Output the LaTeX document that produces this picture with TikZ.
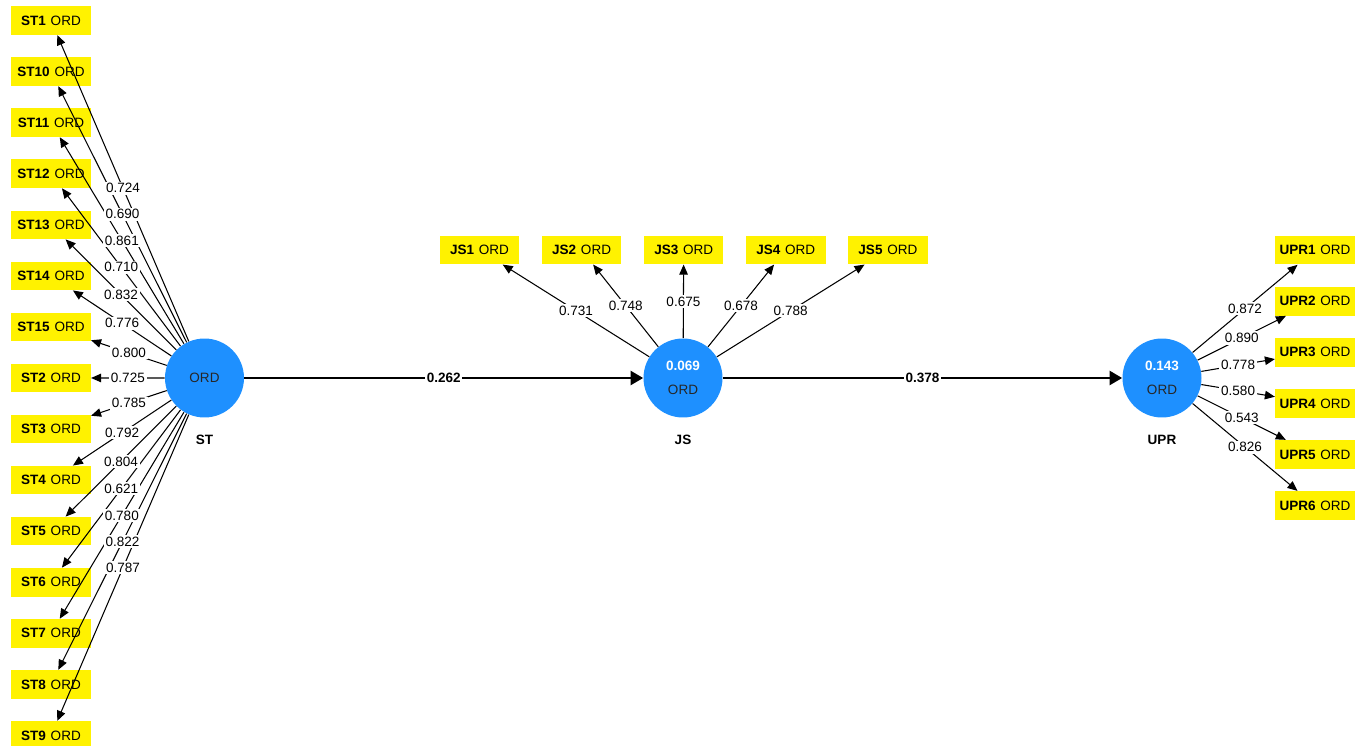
\documentclass[tikz,border=0pt]{standalone}
\usepackage{fontspec}
\setmainfont{Liberation Sans}
\usetikzlibrary{arrows.meta}
\definecolor{plsblue}{RGB}{30,144,255}

\begin{document}
\begin{tikzpicture}[x=0.02cm,y=-0.02cm,font=\fontsize{7.7}{9}\selectfont,
 ind/.style={fill=yellow,minimum width=1.59cm,minimum height=0.57cm,inner sep=0pt},
 lv/.style={circle,fill=plsblue,minimum size=1.58cm,inner sep=0pt,text=black!85,align=center},
 load/.style={-{Triangle[length=0.2cm,width=0.17cm]},line width=0.6pt},
 struct/.style={-{Triangle[length=0.25cm,width=0.28cm]},line width=1.3pt},
 val/.style={fill=white,inner sep=1pt}]
\useasboundingbox (0,0) rectangle (1363,746);
% latent variables
\node[lv] (st) at (204.5,378) {ORD};
\node[lv] (js) at (683,378) {\textcolor{white}{\bfseries 0.069}\\[4.6pt]ORD};
\node[lv] (upr) at (1162,378) {\textcolor{white}{\bfseries 0.143}\\[4.6pt]ORD};
\node[font=\fontsize{7.7}{9}\selectfont\bfseries] (stname) at (204.5,440) {ST};
\node[font=\fontsize{7.7}{9}\selectfont\bfseries] (jsname) at (683,440) {JS};
\node[font=\fontsize{7.7}{9}\selectfont\bfseries] (uprname) at (1162,440) {UPR};
% indicators
\foreach \n [count=\i from 0] in {1,10,11,12,13,14,15,2,3,4,5,6,7,8,9}
 \node[ind] (st\n) at (51,20.5+51.07*\i) {\textbf{ST\n}\hspace{0.35em}ORD};
\foreach \n in {1,...,5}
 \node[ind] (js\n) at (377.4+102.1*\n,250) {\textbf{JS\n}\hspace{0.35em}ORD};
\foreach \n in {1,...,6}
 \node[ind] (upr\n) at (1315,199.2+51.05*\n) {\textbf{UPR\n}\hspace{0.35em}ORD};
% loadings
\foreach \n in {1,10,11,12,13,14,15,2,3,4,5,6,7,8,9}
 \draw[load] (st) -- (st\n);
\foreach \n in {1,...,5}
 \draw[load] (js) -- (js\n);
\foreach \n in {1,...,6}
 \draw[load] (upr) -- (upr\n);
\foreach \n/\v in {1/0.724,10/0.690,11/0.861,12/0.710,13/0.832,14/0.776,15/0.800,
 2/0.725,3/0.785,4/0.792,5/0.804,6/0.621,7/0.780,8/0.822,9/0.787}
 \path (st) -- node[val] {\v} (st\n);
\foreach \n/\v in {1/0.731,2/0.748,3/0.675,4/0.678,5/0.788}
 \path (js) -- node[val] {\v} (js\n);
\foreach \n/\v in {1/0.872,2/0.890,3/0.778,4/0.580,5/0.543,6/0.826}
 \path (upr) -- node[val] {\v} (upr\n);
% paths
\draw[struct] (st) -- node[val,font=\fontsize{7.7}{9}\selectfont\bfseries] {0.262} (js);
\draw[struct] (js) -- node[val,font=\fontsize{7.7}{9}\selectfont\bfseries] {0.378} (upr);
\end{tikzpicture}
\end{document}
